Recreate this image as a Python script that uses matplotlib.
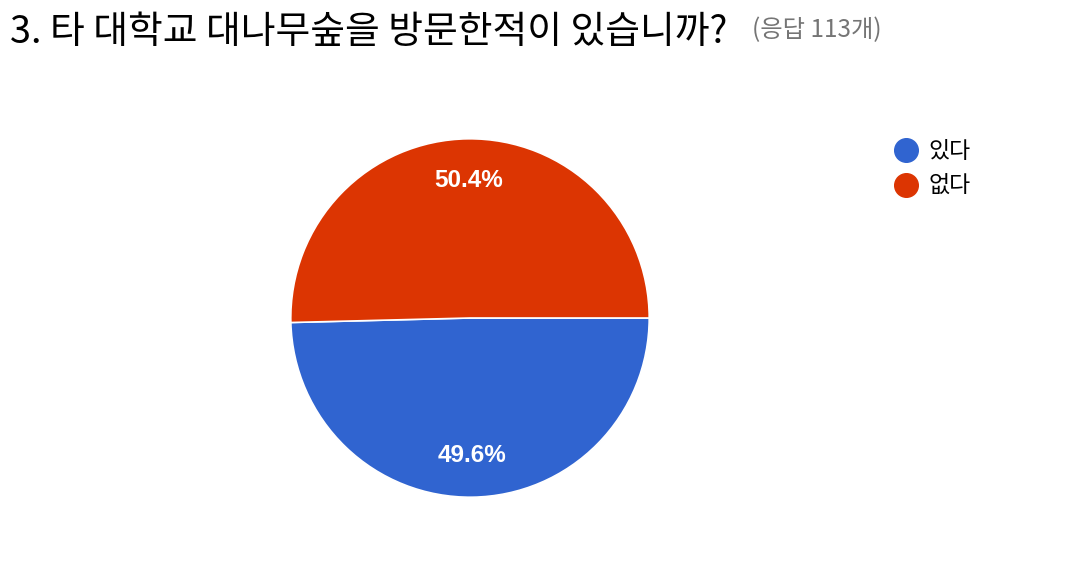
import matplotlib
matplotlib.use('Agg')
import matplotlib.pyplot as plt
from matplotlib.lines import Line2D

plt.rcParams['font.family'] = ['Noto Sans CJK KR', 'DejaVu Sans']

# 데이터
labels = ['있다', '없다']
values = [49.6, 50.4]
colors = ['#3064d0', '#dc3502']

fig = plt.figure(figsize=(10.72, 5.66), dpi=100)

# 제목
fig.text(10 / 1072, 1 - 32 / 566, '3. 타 대학교 대나무숲을 방문한적이 있습니까?',
         fontsize=27.2, color='#000000', va='center', ha='left')
fig.text(752 / 1072, 1 - 30 / 566, '(응답 113개)',
         fontsize=17.5, color='#757575', va='center', ha='left')

# 파이
ax = fig.add_axes([(470 - 181) / 1072, (566 - 318 - 181) / 566, 362 / 1072, 362 / 566])
wedges, texts, autotexts = ax.pie(values, colors=colors, startangle=0, counterclock=False,
                                  autopct='%.1f%%', pctdistance=0.77, radius=1,
                                  wedgeprops=dict(edgecolor='white', linewidth=1.2))
for t in autotexts:
    t.set_color('white')
    t.set_fontsize(17.5)
    t.set_fontweight('bold')
    t.set_family(['Liberation Sans', 'DejaVu Sans'])
ax.set_xlim(-1.01, 1.01)
ax.set_ylim(-1.01, 1.01)
ax.set_aspect('equal')

# 범례
handles = [Line2D([], [], linestyle='none', marker='o', markersize=17,
                  markerfacecolor=c, markeredgecolor=c) for c in colors]
fig.legend(handles, labels, loc='upper left',
           bbox_to_anchor=(883 / 1072, 1 - 131 / 566),
           frameon=False, fontsize=16.5, handlelength=1.2,
           handletextpad=0.4, labelspacing=0.5, borderaxespad=0)

plt.savefig('out.png', dpi=100)
